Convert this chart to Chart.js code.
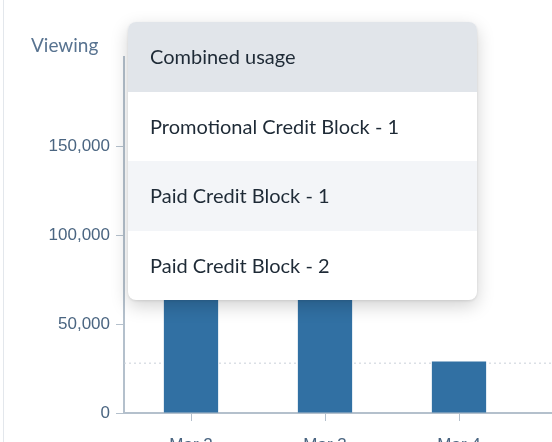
<!DOCTYPE html>
<html>
<head>
<meta charset="utf-8">
<script src="https://cdn.jsdelivr.net/npm/chart.js@4"></script>
<style>
  html, body { margin: 0; width: 552px; height: 442px; overflow: hidden; background: #fff; font-family: Lato, "Noto Sans", sans-serif; }
  .card { position: absolute; left: 3px; top: -10px; width: 700px; height: 470px; border-left: 1px solid #e3e7ec; }
  .wrap { position: absolute; left: 8px; top: 0; width: 652px; height: 453px; }
  .viewing { position: absolute; left: 31px; top: 33px; font-size: 19px; color: #587390; }
  .menu { position: absolute; left: 128px; top: 22px; width: 349px; height: 278px; background: #fff; border-radius: 8px; overflow: hidden;
          box-shadow: 0 6px 18px rgba(0,0,0,0.18), 0 1px 3px rgba(0,0,0,0.1); }
  .menu div { height: 69.5px; line-height: 69.5px; padding-left: 22px; font-size: 20px; color: #1e2a36; }
  .menu .head { background: #e1e5ea; }
  .menu .hover { background: #f3f5f8; }
</style>
</head>
<body>
<div class="card"></div>
<div class="wrap"><canvas id="chart"></canvas></div>
<div class="viewing">Viewing</div>
<div class="menu">
  <div class="head">Combined usage</div>
  <div>Promotional Credit Block - 1</div>
  <div class="hover">Paid Credit Block - 1</div>
  <div>Paid Credit Block - 2</div>
</div>
<script>
// Usage per period (first two bars are hidden behind the menu, estimated)
const periods = ['Mar 2', 'Mar 3', 'Mar 4', 'Mar 5'];
const usageValues = [95000, 100000, 29000, 20000];
const averageUsage = 28000;
const yTicks = [0, 50000, 100000, 150000];
const yMax = 200000;

// draws the dotted average line across the plot
const averageLine = {
  id: 'averageLine',
  beforeDatasetsDraw(chart) {
    const { ctx, chartArea, scales } = chart;
    const y = scales.y.getPixelForValue(averageUsage);
    ctx.save();
    ctx.strokeStyle = '#c9d1da';
    ctx.lineWidth = 1;
    ctx.setLineDash([2, 3]);
    ctx.beginPath();
    ctx.moveTo(chartArea.left, y);
    ctx.lineTo(chartArea.right, y);
    ctx.stroke();
    ctx.restore();
  }
};

const ctx = document.getElementById('chart').getContext('2d');
new Chart(ctx, {
  type: 'bar',
  data: {
    labels: periods,
    datasets: [{
      label: 'Usage',
      data: usageValues,
      backgroundColor: '#3170a3',
      barPercentage: 0.9,
      categoryPercentage: 0.45
    }]
  },
  options: {
    responsive: true,
    maintainAspectRatio: false,
    animation: false,
    layout: { padding: { top: 57, right: 0 } },
    plugins: { legend: { display: false }, tooltip: { enabled: false } },
    scales: {
      x: {
        grid: { display: true, drawOnChartArea: false, offset: false, tickLength: 8, color: '#b4c0cc' },
        border: { color: '#b4c0cc', width: 2 },
        ticks: { color: '#4a6581', font: { size: 17 }, padding: 14 },
        afterFit: s => { s.height = 40; }
      },
      y: {
        min: 0,
        max: yMax,
        afterBuildTicks: s => { s.ticks = yTicks.map(v => ({ value: v })); },
        grid: { display: true, drawOnChartArea: false, tickLength: 8, color: '#b4c0cc' },
        border: { color: '#b4c0cc', width: 2 },
        ticks: { color: '#4a6581', font: { size: 17 }, padding: 6, callback: v => v.toLocaleString('en-US') },
        afterFit: s => { s.width = 116; }
      }
    }
  },
  plugins: [averageLine]
});
</script>
</body>
</html>
